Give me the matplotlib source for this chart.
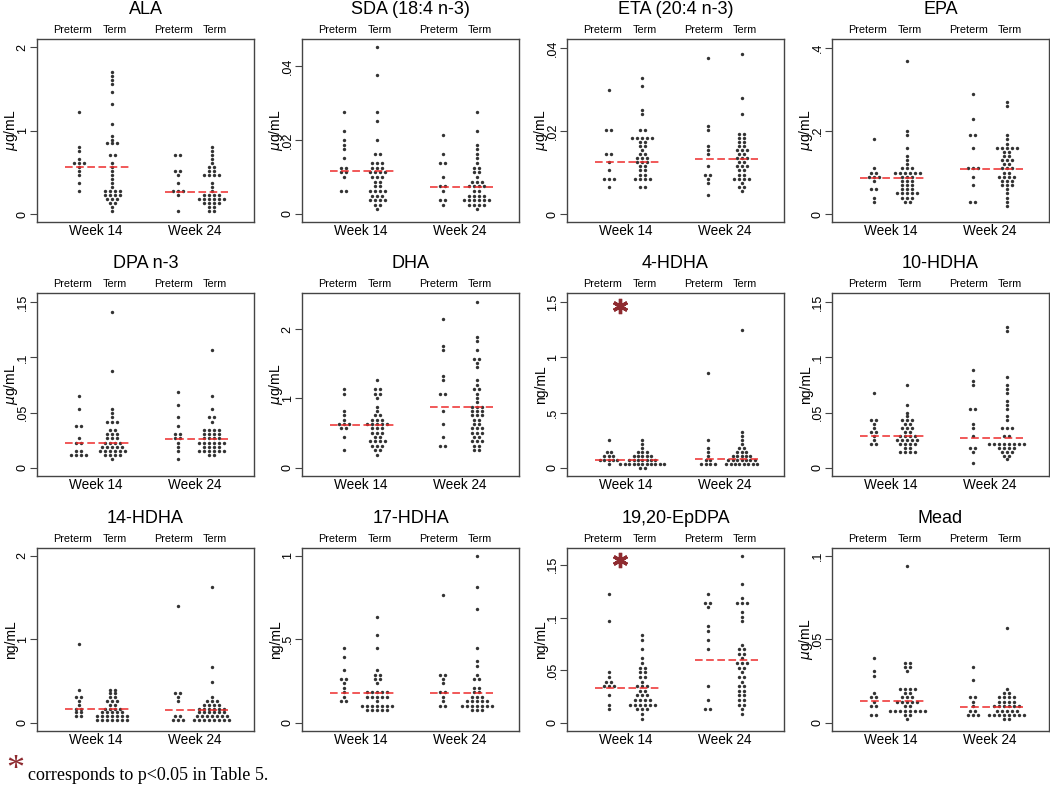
import matplotlib.pyplot as plt
import numpy as np
from matplotlib.transforms import blended_transform_factory

plt.rcParams['font.family'] = ['Liberation Sans', 'DejaVu Sans']

# each panel: [preterm wk14, term wk14, preterm wk24, term wk24]
ala = [
    [1.22, 0.80, 0.75, 0.66, 0.61, 0.61, 0.61, 0.56, 0.51, 0.47, 0.37, 0.28],
    [1.70, 1.65, 1.60, 1.55, 1.45, 1.31, 1.08, 0.94, 0.90, 0.84, 0.84, 0.84, 0.71, 0.71, 0.61, 0.56,
     0.51, 0.47, 0.42, 0.37, 0.33, 0.28, 0.28, 0.28, 0.28, 0.23, 0.23, 0.23, 0.23, 0.18, 0.18, 0.18,
     0.14, 0.14, 0.09, 0.04],
    [0.71, 0.71, 0.51, 0.51, 0.47, 0.37, 0.28, 0.28, 0.28, 0.23, 0.04],
    [0.81, 0.75, 0.71, 0.66, 0.61, 0.56, 0.56, 0.51, 0.51, 0.47, 0.47, 0.47, 0.47, 0.37, 0.33, 0.28,
     0.23, 0.23, 0.23, 0.23, 0.18, 0.18, 0.18, 0.18, 0.18, 0.18, 0.14, 0.14, 0.14, 0.14, 0.09, 0.09,
     0.04, 0.04],
]
sda = [
    [0.0276, 0.0226, 0.0202, 0.0191, 0.018, 0.015, 0.0125, 0.0125, 0.0113, 0.0113, 0.01, 0.0062, 0.0062],
    [0.0452, 0.0376, 0.0276, 0.025, 0.020, 0.0163, 0.0163, 0.0138, 0.0138, 0.0138, 0.0125, 0.0125,
     0.0125, 0.0113, 0.0113, 0.0113, 0.0113, 0.01, 0.01, 0.01, 0.0087, 0.0087, 0.0075, 0.0075, 0.0062,
     0.0062, 0.0062, 0.0062, 0.005, 0.005, 0.005, 0.0037, 0.0037, 0.0037, 0.0037, 0.0025, 0.0025, 0.0012],
    [0.0212, 0.0163, 0.0138, 0.0138, 0.01, 0.0075, 0.0075, 0.0062, 0.0037, 0.0037, 0.0025],
    [0.0276, 0.0226, 0.0189, 0.0176, 0.0163, 0.015, 0.0138, 0.0125, 0.0125, 0.0113, 0.0113, 0.01,
     0.0087, 0.0087, 0.0087, 0.0075, 0.0075, 0.0075, 0.0075, 0.0062, 0.0062, 0.005, 0.005, 0.005, 0.005,
     0.0037, 0.0037, 0.0037, 0.0037, 0.0037, 0.0037, 0.0025, 0.0025, 0.0025, 0.0025, 0.0012],
]
eta = [
    [0.030, 0.0198, 0.0198, 0.0142, 0.0142, 0.0123, 0.0104, 0.0085, 0.0085, 0.0085, 0.0065],
    [0.033, 0.031, 0.0255, 0.0236, 0.0198, 0.0198, 0.018, 0.018, 0.018, 0.018, 0.018, 0.017, 0.017,
     0.0161, 0.0161, 0.0152, 0.0142, 0.0142, 0.0132, 0.0132, 0.0132, 0.0123, 0.0123, 0.0123, 0.0114,
     0.0114, 0.0104, 0.0104, 0.0095, 0.0095, 0.0085, 0.0085, 0.0085, 0.0085, 0.0065, 0.0065],
    [0.0377, 0.0209, 0.0198, 0.0161, 0.0152, 0.0142, 0.0114, 0.0095, 0.0095, 0.0085, 0.0075, 0.0047],
    [0.0386, 0.0281, 0.0236, 0.0189, 0.0189, 0.018, 0.018, 0.017, 0.017, 0.0161, 0.0161, 0.0152, 0.0152,
     0.0152, 0.0142, 0.0142, 0.0132, 0.0132, 0.0132, 0.0123, 0.0123, 0.0114, 0.0114, 0.0114, 0.0104,
     0.0104, 0.0095, 0.0095, 0.0085, 0.0085, 0.0085, 0.0085, 0.0075, 0.0065, 0.0065, 0.0056],
]
epa = [
    [0.18, 0.11, 0.10, 0.10, 0.09, 0.09, 0.09, 0.08, 0.06, 0.06, 0.04, 0.03],
    [0.37, 0.20, 0.19, 0.16, 0.14, 0.13, 0.12, 0.11, 0.11, 0.11, 0.10, 0.10, 0.10, 0.10, 0.10, 0.10,
     0.09, 0.09, 0.09, 0.08, 0.08, 0.08, 0.07, 0.07, 0.07, 0.06, 0.06, 0.06, 0.05, 0.05, 0.05, 0.05,
     0.05, 0.04, 0.04, 0.04, 0.03, 0.03],
    [0.29, 0.23, 0.19, 0.19, 0.16, 0.11, 0.11, 0.11, 0.09, 0.07, 0.03, 0.03],
    [0.27, 0.26, 0.19, 0.18, 0.17, 0.16, 0.16, 0.16, 0.16, 0.16, 0.15, 0.15, 0.14, 0.14, 0.13, 0.13,
     0.13, 0.12, 0.12, 0.11, 0.11, 0.11, 0.10, 0.10, 0.09, 0.09, 0.09, 0.09, 0.08, 0.08, 0.08, 0.07,
     0.07, 0.07, 0.06, 0.05, 0.04, 0.03, 0.02],
]
dpa = [
    [0.0655, 0.0534, 0.0386, 0.0386, 0.0272, 0.0232, 0.0232, 0.016, 0.016, 0.012, 0.012, 0.012, 0.012],
    [0.141, 0.0875, 0.0537, 0.0504, 0.0468, 0.043, 0.043, 0.04, 0.0356, 0.0356, 0.0317, 0.0317, 0.0317,
     0.028, 0.028, 0.028, 0.0245, 0.0245, 0.0245, 0.0245, 0.0208, 0.0208, 0.0208, 0.0208, 0.0208,
     0.016, 0.016, 0.016, 0.016, 0.016, 0.016, 0.012, 0.012, 0.012, 0.012, 0.008],
    [0.0685, 0.0573, 0.0462, 0.0386, 0.0317, 0.0317, 0.028, 0.028, 0.0245, 0.0196, 0.015, 0.0075],
    [0.107, 0.0655, 0.0534, 0.0468, 0.0468, 0.043, 0.0356, 0.0356, 0.0356, 0.0356, 0.0317, 0.0317,
     0.0317, 0.0317, 0.028, 0.028, 0.028, 0.028, 0.0245, 0.0245, 0.0245, 0.0245, 0.0245, 0.0245,
     0.0196, 0.0196, 0.0196, 0.0196, 0.016, 0.016, 0.016, 0.016, 0.016, 0.016, 0.012, 0.012],
]
dha = [
    [1.14, 1.07, 0.83, 0.76, 0.70, 0.64, 0.64, 0.64, 0.58, 0.58, 0.45, 0.25],
    [1.26, 1.14, 1.14, 1.07, 1.07, 1.02, 0.89, 0.83, 0.76, 0.76, 0.70, 0.70, 0.70, 0.64, 0.64, 0.64,
     0.64, 0.64, 0.58, 0.58, 0.58, 0.51, 0.51, 0.51, 0.45, 0.45, 0.38, 0.38, 0.38, 0.38, 0.32, 0.32,
     0.32, 0.25, 0.25, 0.19],
    [2.14, 1.77, 1.70, 1.30, 1.24, 1.07, 1.07, 0.83, 0.64, 0.45, 0.32, 0.32],
    [2.39, 1.89, 1.84, 1.70, 1.58, 1.58, 1.53, 1.45, 1.26, 1.20, 1.14, 1.14, 1.07, 1.02, 0.95, 0.89,
     0.89, 0.89, 0.83, 0.83, 0.83, 0.76, 0.76, 0.76, 0.70, 0.70, 0.64, 0.64, 0.58, 0.58, 0.58, 0.51,
     0.51, 0.51, 0.45, 0.45, 0.38, 0.38, 0.38, 0.32, 0.32, 0.25, 0.25],
]
hdha4 = [
    [0.25, 0.16, 0.16, 0.12, 0.12, 0.12, 0.08, 0.08, 0.08, 0.08, 0.08, 0.04],
    [0.25, 0.22, 0.18, 0.15, 0.15, 0.15, 0.11, 0.11, 0.11, 0.11, 0.11, 0.07, 0.07, 0.07, 0.07, 0.07,
     0.07, 0.07, 0.04, 0.04, 0.04, 0.04, 0.04, 0.04, 0.04, 0.04, 0.04, 0.04, 0.04, 0.0, 0.0],
    [0.86, 0.25, 0.18, 0.15, 0.11, 0.07, 0.07, 0.04, 0.04, 0.04, 0.04],
    [1.25, 0.32, 0.29, 0.25, 0.22, 0.18, 0.18, 0.15, 0.15, 0.15, 0.11, 0.11, 0.11, 0.11, 0.11, 0.07,
     0.07, 0.07, 0.07, 0.07, 0.07, 0.07, 0.04, 0.04, 0.04, 0.04, 0.04, 0.04, 0.04, 0.04],
]
hdha10 = [
    [0.067, 0.042, 0.042, 0.039, 0.035, 0.032, 0.032, 0.029, 0.025, 0.021, 0.021],
    [0.074, 0.0565, 0.05, 0.046, 0.042, 0.042, 0.042, 0.0386, 0.0386, 0.035, 0.035, 0.035, 0.0317,
     0.0317, 0.028, 0.028, 0.028, 0.028, 0.0245, 0.0245, 0.0245, 0.0245, 0.0245, 0.0208, 0.0208,
     0.0208, 0.0208, 0.017, 0.017, 0.014, 0.014, 0.014, 0.014],
    [0.0885, 0.078, 0.074, 0.053, 0.053, 0.039, 0.035, 0.028, 0.017, 0.017, 0.014, 0.004],
    [0.128, 0.123, 0.0815, 0.0745, 0.071, 0.067, 0.060, 0.057, 0.053, 0.047, 0.042, 0.035, 0.035,
     0.035, 0.028, 0.028, 0.021, 0.021, 0.021, 0.021, 0.021, 0.021, 0.021, 0.021, 0.017, 0.017,
     0.017, 0.017, 0.014, 0.014, 0.014, 0.011, 0.011, 0.007],
]
hdha14 = [
    [0.95, 0.41, 0.31, 0.31, 0.26, 0.22, 0.17, 0.17, 0.13, 0.13, 0.085, 0.085],
    [0.41, 0.41, 0.37, 0.37, 0.31, 0.31, 0.27, 0.27, 0.27, 0.22, 0.22, 0.17, 0.17, 0.17, 0.17, 0.12,
     0.12, 0.12, 0.12, 0.12, 0.08, 0.08, 0.08, 0.08, 0.08, 0.08, 0.08, 0.035, 0.035, 0.035, 0.035,
     0.035, 0.035, 0.035],
    [1.40, 0.37, 0.37, 0.31, 0.27, 0.08, 0.08, 0.035, 0.035, 0.035],
    [1.63, 0.675, 0.49, 0.31, 0.27, 0.27, 0.27, 0.22, 0.22, 0.22, 0.22, 0.17, 0.17, 0.17, 0.17, 0.17,
     0.17, 0.12, 0.12, 0.12, 0.12, 0.12, 0.12, 0.08, 0.08, 0.08, 0.08, 0.08, 0.08, 0.08, 0.035, 0.035,
     0.035, 0.035, 0.035, 0.035, 0.035, 0.035],
]
hdha17 = [
    [0.458, 0.404, 0.323, 0.273, 0.273, 0.243, 0.217, 0.18, 0.157, 0.133, 0.133],
    [0.62, 0.514, 0.458, 0.323, 0.297, 0.297, 0.273, 0.273, 0.243, 0.189, 0.189, 0.189, 0.189, 0.189,
     0.159, 0.159, 0.159, 0.159, 0.159, 0.133, 0.108, 0.108, 0.108, 0.108, 0.108, 0.108, 0.108, 0.078,
     0.078, 0.078, 0.078, 0.078],
    [0.753, 0.297, 0.297, 0.27, 0.243, 0.189, 0.189, 0.159, 0.133, 0.108, 0.108],
    [1.0, 0.807, 0.675, 0.458, 0.378, 0.353, 0.297, 0.27, 0.27, 0.219, 0.219, 0.189, 0.189, 0.159,
     0.159, 0.159, 0.133, 0.133, 0.133, 0.133, 0.133, 0.108, 0.108, 0.108, 0.108, 0.108, 0.108, 0.108,
     0.078, 0.078, 0.078],
]
epdpa = [
    [0.123, 0.0965, 0.0487, 0.0443, 0.040, 0.040, 0.0363, 0.0363, 0.0363, 0.0264, 0.0178, 0.0124],
    [0.0838, 0.0793, 0.0704, 0.0618, 0.0576, 0.0538, 0.0538, 0.0487, 0.0487, 0.0443, 0.0443, 0.040,
     0.0354, 0.0354, 0.0354, 0.0306, 0.0306, 0.0268, 0.0268, 0.0268, 0.022, 0.022, 0.022, 0.022,
     0.0178, 0.0178, 0.0178, 0.0178, 0.0178, 0.0178, 0.013, 0.013, 0.013, 0.0083, 0.0041],
    [0.123, 0.114, 0.114, 0.110, 0.092, 0.088, 0.079, 0.0704, 0.0354, 0.022, 0.013, 0.013],
    [0.158, 0.132, 0.119, 0.114, 0.114, 0.114, 0.106, 0.100, 0.0965, 0.0745, 0.0704, 0.0704, 0.0662,
     0.0662, 0.0618, 0.0576, 0.0576, 0.0576, 0.0538, 0.0538, 0.0487, 0.0443, 0.0443, 0.040, 0.0354,
     0.0354, 0.0306, 0.0306, 0.0268, 0.0268, 0.022, 0.022, 0.0178, 0.0178, 0.013, 0.0083],
]
mead = [
    [0.039, 0.031, 0.0283, 0.0183, 0.0153, 0.0153, 0.0126, 0.0102, 0.0102, 0.0052, 0.0052],
    [0.0936, 0.0363, 0.0363, 0.034, 0.034, 0.031, 0.0207, 0.0207, 0.0207, 0.0207, 0.0183, 0.0183,
     0.0153, 0.0153, 0.0153, 0.0126, 0.0126, 0.0126, 0.0126, 0.0126, 0.0102, 0.0102, 0.0078, 0.0078,
     0.0078, 0.0078, 0.0078, 0.0078, 0.0078, 0.0078, 0.0052, 0.0052, 0.0022],
    [0.034, 0.026, 0.0153, 0.0153, 0.0126, 0.0102, 0.0078, 0.0078, 0.0052, 0.0052, 0.0052],
    [0.057, 0.0207, 0.0183, 0.0183, 0.0153, 0.0153, 0.0153, 0.0153, 0.0126, 0.0126, 0.0126, 0.0126,
     0.0102, 0.0102, 0.0102, 0.0102, 0.0102, 0.0102, 0.0078, 0.0078, 0.0078, 0.0078, 0.0078, 0.0052,
     0.0052, 0.0052, 0.0052, 0.0052, 0.0052, 0.0052, 0.0052, 0.0022, 0.0022],
]

panels = [ala, sda, eta, epa, dpa, dha, hdha4, hdha10, hdha14, hdha17, epdpa, mead]
titles = ['ALA', 'SDA (18:4 n-3)', 'ETA (20:4 n-3)', 'EPA', 'DPA n-3', 'DHA',
          '4-HDHA', '10-HDHA', '14-HDHA', '17-HDHA', '19,20-EpDPA', 'Mead']
units = ['$\\mu$g/mL'] * 6 + ['ng/mL'] * 5 + ['$\\mu$g/mL']
# medians (week 14, week 24)
medians = [(0.56, 0.27), (0.0116, 0.0074), (0.0125, 0.0134), (0.086, 0.109),
           (0.022, 0.026), (0.62, 0.87), (0.073, 0.075), (0.029, 0.027),
           (0.17, 0.15), (0.18, 0.178), (0.0335, 0.060), (0.013, 0.0097)]
yticks = [[0, 1, 2], [0, 0.02, 0.04], [0, 0.02, 0.04], [0, 0.2, 0.4],
          [0, 0.05, 0.1, 0.15], [0, 1, 2], [0, 0.5, 1, 1.5], [0, 0.05, 0.1, 0.15],
          [0, 1, 2], [0, 0.5, 1], [0, 0.05, 0.1, 0.15], [0, 0.05, 0.1]]
ytick_labels = [['0', '1', '2'], ['0', '.02', '.04'], ['0', '.02', '.04'], ['0', '.2', '.4'],
                ['0', '.05', '.1', '.15'], ['0', '1', '2'], ['0', '.5', '1', '1.5'],
                ['0', '.05', '.1', '.15'], ['0', '1', '2'], ['0', '.5', '1'],
                ['0', '.05', '.1', '.15'], ['0', '.05', '.1']]
ylims = [(-0.096, 2.1), (-0.0022, 0.0474), (-0.0019, 0.0422), (-0.019, 0.422),
         (-0.0075, 0.1585), (-0.12, 2.52), (-0.075, 1.585), (-0.0075, 0.1585),
         (-0.096, 2.09), (-0.048, 1.046), (-0.0076, 0.166), (-0.0048, 0.1046)]
significant = [(6, 1.47), (10, 0.155)]  # panel index, y of the star

groups = ['Preterm', 'Term', 'Preterm', 'Term']
weeks = ['Week 14', 'Week 24']
xpos = [1, 2, 3.95, 4.95]
label_x = [0.83, 2.08, 3.81, 5.06]

W, H = 1050, 800
fig = plt.figure(figsize=(W / 100, H / 100), dpi=100)

col_left = [37, 302, 567, 832]
row_top = [39, 293, 548]
aw, ah = 217, 183

dotcol = '#333333'
red = '#ee2b2b'
star_col = '#8e2b30'

for k, data in enumerate(panels):
    r, c = divmod(k, 4)
    ax = fig.add_axes([col_left[c] / W, 1 - (row_top[r] + ah) / H, aw / W, ah / H])

    # dot plot: bin values into 35 intervals, spread ties sideways
    allv = np.concatenate([np.array(g, dtype=float) for g in data])
    vmin, vmax = allv.min(), allv.max()
    w = (vmax - vmin) / 35
    binned = [np.round((np.array(g) - vmin) / w).astype(int) for g in data]
    maxn = max(np.bincount(b).max() for b in binned)
    dx = min(0.148, 1.3 / max(maxn - 1, 1))
    for pos, b in zip(xpos, binned):
        for lev in np.unique(b):
            n = int(np.sum(b == lev))
            xs = pos + (np.arange(n) - (n - 1) / 2) * dx
            ax.scatter(xs, np.full(n, vmin + lev * w), s=6, c=dotcol, linewidths=0, zorder=3)

    for (p0, p1), m in zip([(xpos[0], xpos[1]), (xpos[2], xpos[3])], medians[k]):
        ax.plot([p0 - 0.4, p1 + 0.5], [m, m], color=red, lw=1.1, dashes=(5, 2.3), zorder=4)

    ax.set_xlim(-0.24, 6.21)
    ax.set_ylim(*ylims[k])
    ax.set_xticks([])
    ax.set_yticks(yticks[k])
    ax.set_yticklabels(ytick_labels[k], rotation=90, ha='center', va='baseline',
                       rotation_mode='anchor', fontsize=9)
    ax.tick_params(axis='y', length=5, width=0.8, pad=3.2, color='#444444')
    for sp in ax.spines.values():
        sp.set_color('#444444')
        sp.set_linewidth(1.0)
    ax.set_ylabel(units[k], fontsize=10, va='center')
    ax.yaxis.set_label_coords(-0.118, 0.5)

    tr = blended_transform_factory(ax.transData, ax.transAxes)
    for p, g in zip(label_x, groups):
        ax.text(p, 1.05, g, transform=tr, ha='center', va='center', fontsize=7.8)
    for p, wk in zip([(xpos[0] + xpos[1]) / 2, (xpos[2] + xpos[3]) / 2], weeks):
        ax.text(p, -0.05, wk, transform=tr, ha='center', va='center', fontsize=9.8)
    ax.text(0.5, 1.16, titles[k], transform=ax.transAxes, ha='center', va='center', fontsize=13)

    for idx, ys in significant:
        if idx == k:
            ax.plot([1.35], [ys], marker=(6, 2, 0), ms=11, mew=2.4, color=star_col, zorder=5)

fig.text(6 / W, 1 - 770 / H, '*', color=star_col, fontsize=26, family='Liberation Serif',
         ha='left', va='center')
fig.text(28 / W, 1 - 775 / H, 'corresponds to p<0.05 in Table 5.', fontsize=13,
         family='Liberation Serif', ha='left', va='center')

fig.savefig('out.png', dpi=100)
